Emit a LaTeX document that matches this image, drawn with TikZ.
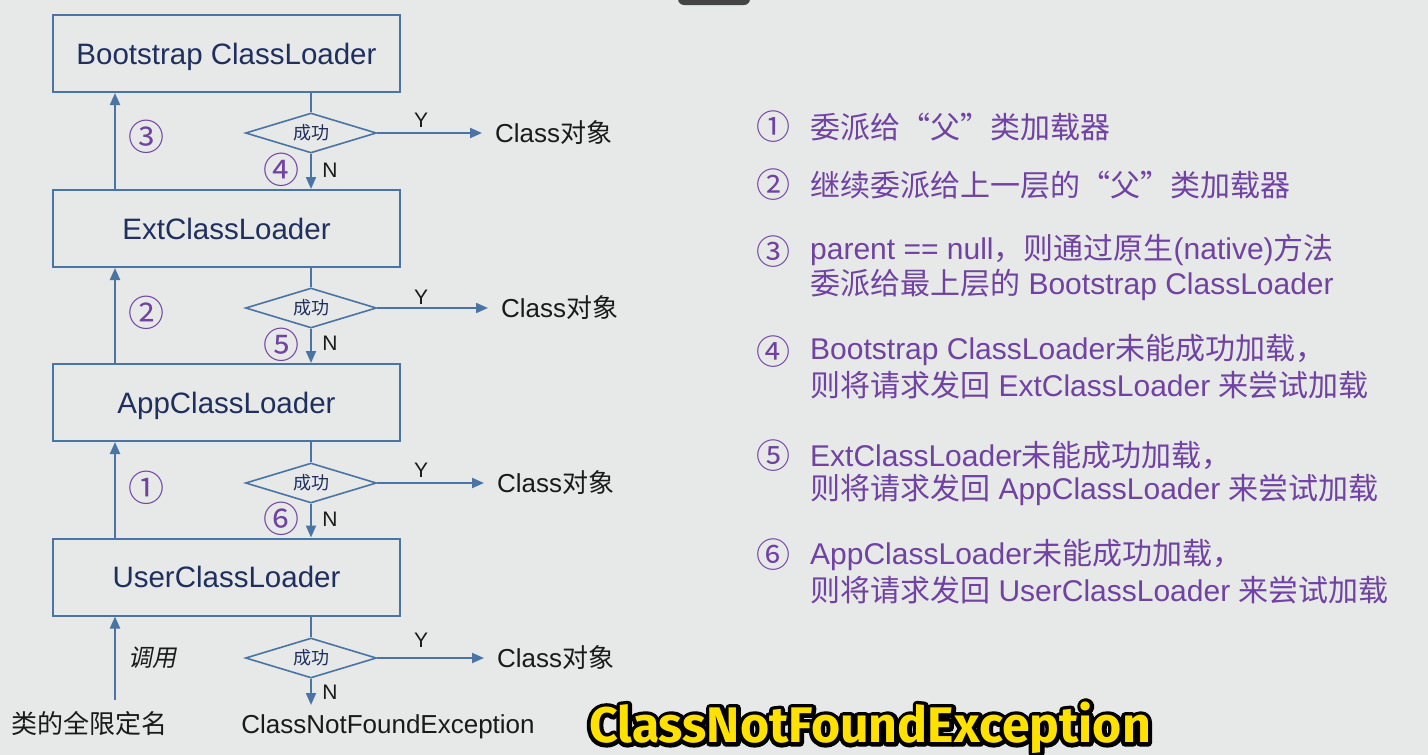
\documentclass[tikz,border=0pt]{standalone}
\usepackage{fontspec}
\setmainfont{Liberation Sans}
\newfontfamily\cjk{Noto Sans CJK SC}
\newfontfamily\cjkit{Noto Sans CJK SC}[FakeSlant=0.2]
\newfontfamily\subfont{Fira Sans}
\usetikzlibrary{arrows.meta,shapes.geometric}
\definecolor{bg}{HTML}{E7E8E8}
\definecolor{lineblue}{HTML}{4A74A4}
\definecolor{navy}{HTML}{1F2F5E}
\definecolor{purp}{HTML}{7042A2}
\definecolor{ink}{HTML}{1A1A1A}
\definecolor{subyellow}{HTML}{FFE100}
\definecolor{tabgray}{HTML}{444444}
\newcommand{\myfs}[1]{\fontsize{#1}{#1}\selectfont}
\newcommand{\fq}[1]{{\cjk\addfontfeature{RawFeature=+fwid}#1}}
\tikzset{
  box/.style={draw=lineblue, line width=2pt, fill=bg, minimum width=347pt, minimum height=77pt, inner sep=0pt, text depth=0pt, text=navy, font=\myfs{29.5}},
  dia/.style={diamond, draw=lineblue, line width=1.6pt, fill=bg, aspect=3.3, minimum width=131pt, minimum height=40pt, inner sep=0pt, text=navy, font=\cjk\myfs{18}},
  arr/.style={draw=lineblue, line width=2pt, -{Triangle[length=12pt,width=10pt]}},
  conn/.style={draw=lineblue, line width=2pt},
  cnum/.style={text=purp, font=\cjk\myfs{36}, inner sep=0pt},
  rnum/.style={text=purp, font=\cjk\myfs{34}, inner sep=0pt},
  yn/.style={text=ink, font=\myfs{21}, inner sep=0pt},
  res/.style={text=ink, font=\myfs{26}, inner sep=0pt, anchor=west},
  itm/.style={text=purp, font=\myfs{30}, inner sep=0pt, anchor=west},
  subt/.style={inner sep=0pt, font=\subfont\bfseries\myfs{50}},
}
\begin{document}
\begin{tikzpicture}[x=1pt,y=-1pt]
\useasboundingbox (0,0) rectangle (1428,755);
\fill[bg] (0,0) rectangle (1428,755);
\fill[tabgray, rounded corners=6pt] (678,-12) rectangle (750,5);

% boxes
\node[box] (bs)  at (226.5,53.5) {Bootstrap ClassLoader};
\node[box] (ext) at (226.5,228.5) {ExtClassLoader};
\node[box] (app) at (226.5,402.5) {AppClassLoader};
\node[box] (usr) at (226.5,577) {UserClassLoader};

% diamonds
\node[dia] (d1) at (311,133) {成功};
\node[dia] (d2) at (311,308) {成功};
\node[dia] (d3) at (311,483) {成功};
\node[dia] (d4) at (311,658) {成功};

% result nodes
\node[res] (c1) at (495,133) {Class{\cjk 对象}};
\node[res] (c2) at (501,308) {Class{\cjk 对象}};
\node[res] (c3) at (497,483) {Class{\cjk 对象}};
\node[res] (c4) at (497,658) {Class{\cjk 对象}};
\node[text=ink, font=\myfs{26}, inner sep=0pt] (exc) at (388,727) {ClassNotFoundException};
\node[text=ink, font=\cjk\myfs{26}, inner sep=0pt] (fqn) at (90,724) {类的全限定名};
\coordinate (start) at (115,700);
\coordinate (nend) at (311,705);

% box -> diamond lines
\draw[conn] (bs.south -| d1.north) -- (d1.north);
\draw[conn] (ext.south -| d2.north) -- (d2.north);
\draw[conn] (app.south -| d3.north) -- (d3.north);
\draw[conn] (usr.south -| d4.north) -- (d4.north);

% N arrows
\draw[arr] (d1.south) -- (d1.south |- ext.north);
\draw[arr] (d2.south) -- (d2.south |- app.north);
\draw[arr] (d3.south) -- (d3.south |- usr.north);
\draw[arr] (d4.south) -- (nend);

% Y arrows
\draw[arr] (d1.east) -- ([xshift=-13pt]c1.west);
\draw[arr] (d2.east) -- ([xshift=-13pt]c2.west);
\draw[arr] (d3.east) -- ([xshift=-13pt]c3.west);
\draw[arr] (d4.east) -- ([xshift=-13pt]c4.west);

% up arrows
\draw[arr] ([xshift=-111.5pt]ext.north) -- ([xshift=-111.5pt]bs.south);
\draw[arr] ([xshift=-111.5pt]app.north) -- ([xshift=-111.5pt]ext.south);
\draw[arr] ([xshift=-111.5pt]usr.north) -- ([xshift=-111.5pt]app.south);
\draw[arr] (start) -- (start |- usr.south);

% labels
\node[yn] (y1) at (421,120) {Y};
\node[yn] (y2) at (421,297) {Y};
\node[yn] (y3) at (421,470) {Y};
\node[yn] (y4) at (421,640) {Y};
\node[yn] (n1) at (330,170) {N};
\node[yn] (n2) at (330,343) {N};
\node[yn] (n3) at (330,519) {N};
\node[yn] (n4) at (330,692) {N};

\node[cnum] (l3) at (146,137) {③};
\node[cnum] (l2) at (146,313) {②};
\node[cnum] (l1) at (146,488) {①};
\node[cnum] (l4) at (281,170) {④};
\node[cnum] (l5) at (281,345) {⑤};
\node[cnum] (l6) at (281,519) {⑥};
\node[text=ink, font=\cjkit\myfs{24}, inner sep=0pt] (call) at (152,658) {调用};

% right-hand list
\node[rnum] (r1) at (773,127) {①};
\node[itm] (t1) at (810,127) {{\cjk 委派给}\fq{“}{\cjk 父}\fq{”}{\cjk 类加载器}};
\node[rnum] (r2) at (773,185) {②};
\node[itm] (t2) at (810,185) {{\cjk 继续委派给上一层的}\fq{“}{\cjk 父}\fq{”}{\cjk 类加载器}};
\node[rnum] (r3) at (773,252) {③};
\node[itm] (t3a) at (810,250) {parent == null{\cjk ，则通过原生}(native){\cjk 方法}};
\node[itm] (t3b) at (810,285) {{\cjk 委派给最上层的} Bootstrap ClassLoader};
\node[rnum] (r4) at (773,352) {④};
\node[itm] (t4a) at (810,350) {Bootstrap ClassLoader{\cjk 未能成功加载，}};
\node[itm] (t4b) at (810,385) {{\cjk 则将请求发回} ExtClassLoader {\cjk 来尝试加载}};
\node[rnum] (r5) at (773,456) {⑤};
\node[itm] (t5a) at (810,455) {ExtClassLoader{\cjk 未能成功加载，}};
\node[itm] (t5b) at (810,490) {{\cjk 则将请求发回} AppClassLoader {\cjk 来尝试加载}};
\node[rnum] (r6) at (773,555) {⑥};
\node[itm] (t6a) at (810,555) {AppClassLoader{\cjk 未能成功加载，}};
\node[itm] (t6b) at (810,590) {{\cjk 则将请求发回} UserClassLoader {\cjk 来尝试加载}};

% subtitle: black stroked copy under a yellow fill
\node[subt, text=black] (subo) at (870,728)
  {\special{pdf:literal direct q 2 Tr 8 w 1 j 0 0 0 RG}ClassNotFoundException\special{pdf:literal direct Q}};
\node[subt, text=subyellow] (sub) at (subo.center) {ClassNotFoundException};
\end{tikzpicture}
\end{document}
